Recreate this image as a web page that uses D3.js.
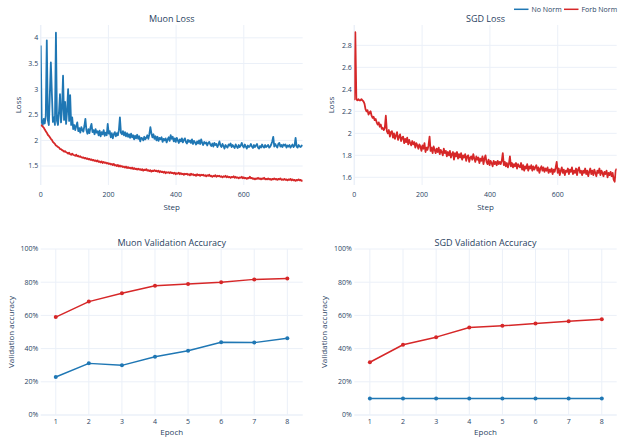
<!DOCTYPE html>
<html lang="en">
<head>
<meta charset="UTF-8"/>
<title>Muon vs SGD</title>
<script src="https://d3js.org/d3.v7.min.js"></script>
<style>
  body { margin: 0; background: #fff; }
  text { font-family: "Open Sans", verdana, arial, sans-serif; fill: #2a3f5f; }
</style>
</head>
<body>
<div id="chart"></div>
<script>

// spacing between logged steps
var stepEvery = 3;

// Muon loss, no norm (blue)
var muonNoNorm = [
  3.85, 2.35, 2.30, 2.42, 2.33, 2.48, 3.95, 2.40, 2.30, 2.90, 3.52, 2.92, 2.36, 2.45, 2.30, 4.10,
  2.38, 2.30, 2.55, 2.90, 2.35, 2.62, 3.26, 2.40, 2.75, 2.32, 2.58, 3.00, 2.38, 2.88, 2.30, 2.45,
  2.22, 2.30, 2.20, 2.28, 2.35, 2.18, 2.24, 2.15, 2.26, 2.20, 2.17, 2.28, 2.42, 2.20, 2.13, 2.22,
  2.14, 2.25, 2.32, 2.16, 2.20, 2.12, 2.22, 2.15, 2.18, 2.10, 2.19, 2.08, 2.16, 2.12, 2.20, 2.09,
  2.15, 2.10, 2.32, 2.13, 2.18, 2.06, 2.14, 2.04, 2.12, 2.16, 2.08, 2.14, 2.10, 2.20, 2.45, 2.15,
  2.12, 2.18, 2.10, 2.16, 2.08, 2.14, 2.07, 2.12, 2.05, 2.13, 2.06, 2.10, 2.02, 2.09, 2.04, 2.11,
  2.03, 2.08, 1.98, 2.05, 2.04, 2.00, 2.07, 2.02, 2.05, 2.10, 2.03, 2.12, 2.26, 2.14, 2.06, 2.12,
  2.03, 2.08, 2.00, 2.07, 1.99, 2.05, 2.02, 2.06, 1.97, 2.03, 2.00, 2.04, 1.96, 2.02, 2.06, 1.99,
  2.10, 2.03, 2.07, 1.98, 2.04, 1.97, 2.05, 2.00, 1.95, 2.02, 1.98, 2.04, 1.96, 2.01, 2.04, 1.97,
  1.94, 2.01, 1.97, 2.00, 1.95, 2.02, 1.93, 1.99, 1.96, 1.92, 1.98, 1.94, 2.00, 1.93, 2.02, 1.95,
  1.91, 1.97, 1.94, 1.96, 1.90, 1.95, 1.97, 1.92, 1.89, 1.94, 1.88, 1.95, 1.91, 1.93, 1.87, 1.92,
  1.98, 1.90, 1.87, 1.93, 1.89, 1.84, 1.91, 1.88, 1.86, 1.92, 1.90, 1.94, 1.87, 1.91, 1.88, 1.85,
  1.92, 1.88, 1.85, 1.91, 1.87, 1.90, 1.95, 1.89, 1.86, 1.92, 1.88, 1.84, 1.90, 1.87, 1.89, 1.93,
  1.88, 1.85, 1.91, 1.87, 1.90, 1.93, 1.86, 1.84, 1.89, 1.86, 1.92, 1.88, 1.86, 1.91, 1.87, 1.89,
  1.91, 1.86, 1.88, 1.92, 1.98, 2.07, 1.88, 1.93, 1.89, 1.86, 1.93, 1.95, 1.88, 1.91, 1.87, 1.92,
  1.90, 1.92, 1.86, 1.90, 1.88, 1.91, 1.86, 1.89, 1.92, 1.87, 1.90, 2.05, 1.88, 1.86, 1.91, 1.88,
  1.87, 1.90, 1.89];

// Muon loss, forb norm (red)
var muonForb = [
  2.30, 2.29, 2.27, 2.25, 2.21, 2.18, 2.15, 2.11, 2.09, 2.06, 2.03, 2.01, 1.97, 1.95, 1.93, 1.90,
  1.89, 1.87, 1.86, 1.83, 1.83, 1.81, 1.80, 1.78, 1.79, 1.77, 1.76, 1.74, 1.76, 1.73, 1.72, 1.74,
  1.72, 1.71, 1.70, 1.72, 1.69, 1.70, 1.68, 1.69, 1.67, 1.66, 1.67, 1.65, 1.66, 1.64, 1.65, 1.63,
  1.64, 1.62, 1.63, 1.61, 1.62, 1.60, 1.61, 1.59, 1.61, 1.58, 1.59, 1.57, 1.59, 1.56, 1.58, 1.56,
  1.57, 1.55, 1.56, 1.54, 1.55, 1.53, 1.54, 1.52, 1.54, 1.51, 1.52, 1.50, 1.52, 1.49, 1.51, 1.49,
  1.50, 1.48, 1.49, 1.47, 1.49, 1.46, 1.48, 1.46, 1.47, 1.45, 1.47, 1.44, 1.46, 1.44, 1.45, 1.43,
  1.45, 1.43, 1.44, 1.42, 1.44, 1.41, 1.43, 1.42, 1.44, 1.41, 1.42, 1.40, 1.42, 1.39, 1.41, 1.40,
  1.42, 1.40, 1.41, 1.39, 1.41, 1.38, 1.40, 1.38, 1.39, 1.37, 1.39, 1.36, 1.38, 1.37, 1.38, 1.36,
  1.38, 1.36, 1.37, 1.35, 1.37, 1.34, 1.36, 1.35, 1.37, 1.34, 1.36, 1.34, 1.35, 1.33, 1.35, 1.34,
  1.35, 1.33, 1.34, 1.32, 1.35, 1.33, 1.34, 1.32, 1.33, 1.31, 1.34, 1.32, 1.33, 1.31, 1.33, 1.32,
  1.33, 1.31, 1.32, 1.30, 1.32, 1.31, 1.33, 1.30, 1.31, 1.29, 1.31, 1.30, 1.32, 1.29, 1.31, 1.30,
  1.31, 1.29, 1.30, 1.28, 1.30, 1.29, 1.31, 1.28, 1.30, 1.28, 1.29, 1.27, 1.29, 1.28, 1.30, 1.27,
  1.29, 1.27, 1.28, 1.26, 1.28, 1.27, 1.29, 1.26, 1.28, 1.26, 1.27, 1.25, 1.27, 1.26, 1.29, 1.26,
  1.27, 1.25, 1.26, 1.24, 1.26, 1.25, 1.27, 1.25, 1.26, 1.24, 1.26, 1.25, 1.27, 1.24, 1.25, 1.24,
  1.26, 1.24, 1.25, 1.23, 1.25, 1.24, 1.26, 1.24, 1.25, 1.23, 1.25, 1.24, 1.26, 1.23, 1.24, 1.23,
  1.25, 1.23, 1.24, 1.22, 1.24, 1.23, 1.25, 1.22, 1.24, 1.22, 1.23, 1.21, 1.23, 1.22, 1.24, 1.22,
  1.23, 1.21, 1.22];

// SGD loss, forb norm (red) - the no norm run shows no loss curve
var sgdForb = [
  2.30, 2.92, 2.31, 2.30, 2.31, 2.30, 2.30, 2.31, 2.30, 2.29, 2.27, 2.22, 2.20, 2.21, 2.17, 2.19,
  2.20, 2.16, 2.14, 2.15, 2.12, 2.13, 2.10, 2.08, 2.10, 2.06, 2.08, 2.04, 2.05, 2.03, 2.05, 2.16,
  2.02, 2.00, 2.03, 1.97, 2.01, 2.02, 1.96, 2.00, 1.95, 1.98, 2.01, 1.94, 1.97, 1.99, 1.93, 1.96,
  1.97, 1.91, 1.95, 1.92, 1.96, 1.90, 1.94, 1.91, 1.89, 1.93, 1.90, 1.92, 1.87, 1.91, 1.89, 1.86,
  1.90, 1.88, 1.84, 1.89, 1.86, 1.91, 1.83, 1.87, 1.85, 1.89, 1.97, 1.84, 1.87, 1.82, 1.88, 1.85,
  1.82, 1.86, 1.83, 1.87, 1.81, 1.85, 1.83, 1.80, 1.86, 1.82, 1.84, 1.79, 1.83, 1.80, 1.84, 1.78,
  1.81, 1.83, 1.76, 1.82, 1.79, 1.83, 1.77, 1.81, 1.78, 1.82, 1.76, 1.80, 1.78, 1.81, 1.75, 1.79,
  1.80, 1.74, 1.78, 1.79, 1.76, 1.81, 1.77, 1.74, 1.79, 1.76, 1.78, 1.73, 1.77, 1.75, 1.79, 1.72,
  1.77, 1.80, 1.74, 1.72, 1.76, 1.71, 1.75, 1.73, 1.70, 1.75, 1.72, 1.74, 1.71, 1.75, 1.72, 1.74,
  1.72, 1.75, 1.82, 1.71, 1.74, 1.70, 1.73, 1.69, 1.72, 1.79, 1.70, 1.73, 1.69, 1.72, 1.70, 1.73,
  1.68, 1.72, 1.70, 1.69, 1.73, 1.67, 1.71, 1.66, 1.70, 1.68, 1.72, 1.66, 1.70, 1.68, 1.71, 1.66,
  1.70, 1.67, 1.69, 1.71, 1.66, 1.69, 1.64, 1.68, 1.70, 1.66, 1.69, 1.65, 1.68, 1.66, 1.69, 1.64,
  1.67, 1.65, 1.68, 1.63, 1.67, 1.65, 1.69, 1.74, 1.64, 1.68, 1.62, 1.66, 1.69, 1.64, 1.67, 1.62,
  1.66, 1.65, 1.68, 1.63, 1.67, 1.65, 1.69, 1.63, 1.66, 1.64, 1.68, 1.62, 1.67, 1.69, 1.64, 1.66,
  1.62, 1.66, 1.64, 1.68, 1.63, 1.66, 1.61, 1.65, 1.68, 1.63, 1.66, 1.62, 1.67, 1.64, 1.61, 1.66,
  1.64, 1.68, 1.62, 1.66, 1.64, 1.61, 1.65, 1.63, 1.66, 1.60, 1.64, 1.62, 1.65, 1.61, 1.64, 1.58,
  1.56, 1.66, 1.68];

// validation accuracy (%) per epoch
var epochs = [1, 2, 3, 4, 5, 6, 7, 8];
var muonAccNoNorm = [22.9, 31.1, 29.9, 35.1, 38.7, 43.8, 43.6, 46.2];
var muonAccForb = [59.0, 68.3, 73.3, 77.9, 78.9, 79.9, 81.7, 82.3];
var sgdAccNoNorm = [9.9, 9.9, 9.9, 9.9, 9.9, 9.9, 9.9, 9.9];
var sgdAccForb = [31.8, 42.3, 46.9, 52.7, 53.7, 55.1, 56.5, 57.7];

// tick labels
var stepTicks = [0, 200, 400, 600];
var muonLossTicks = [1.5, 2, 2.5, 3, 3.5, 4];
var sgdLossTicks = [1.6, 1.8, 2, 2.2, 2.4, 2.6, 2.8];
var accTicks = [0, 20, 40, 60, 80, 100];

var blue = "#1f77b4", red = "#d62728";
var gridColor = "#ebf0f8";

var w = 623, h = 444;

var svg = d3.select("#chart")
  .append("svg")
  .attr("width", w)
  .attr("height", h);

function toPoints(vals) {
  return vals.map(function(v, i) { return [i * stepEvery, v]; });
}

function panel(opt) {
  var x = d3.scaleLinear().domain(opt.xDomain).range([opt.left, opt.right]);
  var y = d3.scaleLinear().domain(opt.yDomain).range([opt.bottom, opt.top]);
  var g = svg.append("g");

  // grid
  g.selectAll(".vg").data(opt.xTicks).enter().append("line")
    .attr("x1", function(d) { return x(d); })
    .attr("x2", function(d) { return x(d); })
    .attr("y1", opt.top).attr("y2", opt.bottom)
    .attr("stroke", gridColor)
    .attr("stroke-width", function(d) { return d === 0 ? 1.5 : 1; });
  g.selectAll(".hg").data(opt.yTicks).enter().append("line")
    .attr("x1", opt.left).attr("x2", opt.right)
    .attr("y1", function(d) { return y(d); })
    .attr("y2", function(d) { return y(d); })
    .attr("stroke", gridColor)
    .attr("stroke-width", function(d) { return d === 0 ? 1.5 : 1; });

  // tick labels
  g.selectAll(".xt").data(opt.xTicks).enter().append("text")
    .attr("x", function(d) { return x(d); })
    .attr("y", opt.bottom + opt.xTickGap)
    .attr("text-anchor", "middle")
    .attr("font-size", 7)
    .text(function(d) { return d; });
  g.selectAll(".yt").data(opt.yTicks).enter().append("text")
    .attr("x", opt.left - 2.5)
    .attr("y", function(d) { return y(d); })
    .attr("dy", "0.35em")
    .attr("text-anchor", "end")
    .attr("font-size", 7)
    .text(opt.yFormat);

  // titles
  g.append("text")
    .attr("x", (opt.left + opt.right) / 2)
    .attr("y", opt.top - opt.titleGap)
    .attr("text-anchor", "middle")
    .attr("font-size", 9)
    .text(opt.title);
  g.append("text")
    .attr("x", (opt.left + opt.right) / 2)
    .attr("y", opt.bottom + opt.xTitleGap)
    .attr("text-anchor", "middle")
    .attr("font-size", 8)
    .text(opt.xTitle);
  g.append("text")
    .attr("transform", "translate(" + opt.yTitleX + "," + ((opt.top + opt.bottom) / 2) + ") rotate(-90)")
    .attr("text-anchor", "middle")
    .attr("dy", "0.35em")
    .attr("font-size", 8)
    .text(opt.yTitle);

  var line = d3.line()
    .x(function(d) { return x(d[0]); })
    .y(function(d) { return y(d[1]); });

  var clipId = "clip" + Math.round(opt.left) + Math.round(opt.top);
  svg.append("clipPath").attr("id", clipId)
    .append("rect")
    .attr("x", opt.left).attr("y", opt.top)
    .attr("width", opt.right - opt.left).attr("height", opt.bottom - opt.top);

  var plot = g.append("g").attr("clip-path", "url(#" + clipId + ")");
  opt.series.forEach(function(s) {
    plot.append("path")
      .datum(s.points)
      .attr("fill", "none")
      .attr("stroke", s.color)
      .attr("stroke-width", opt.lineWidth)
      .attr("stroke-linejoin", "round")
      .attr("d", line);
    if (opt.markers) {
      g.selectAll(null).data(s.points).enter().append("circle")
        .attr("cx", function(d) { return x(d[0]); })
        .attr("cy", function(d) { return y(d[1]); })
        .attr("r", 2)
        .attr("fill", s.color);
    }
  });
}

var lossMax = (muonNoNorm.length - 1) * stepEvery;

panel({
  left: 40.7, right: 302.7, top: 25, bottom: 185,
  xDomain: [0, lossMax], yDomain: [1.13, 4.25],
  xTicks: stepTicks, yTicks: muonLossTicks,
  yFormat: function(d) { return d; },
  title: "Muon Loss", xTitle: "Step", yTitle: "Loss",
  titleGap: 3, xTickGap: 12, xTitleGap: 25, yTitleX: 18, lineWidth: 1.8,
  series: [
    { points: toPoints(muonNoNorm), color: blue },
    { points: toPoints(muonForb), color: red }
  ]
});

panel({
  left: 354.3, right: 616.7, top: 25, bottom: 185,
  xDomain: [0, lossMax], yDomain: [1.53, 2.985],
  xTicks: stepTicks, yTicks: sgdLossTicks,
  yFormat: function(d) { return d; },
  title: "SGD Loss", xTitle: "Step", yTitle: "Loss",
  titleGap: 3, xTickGap: 12, xTitleGap: 25, yTitleX: 331.5, lineWidth: 1.8,
  series: [
    { points: toPoints(sgdForb), color: red }
  ]
});

function accPoints(vals) {
  return vals.map(function(v, i) { return [epochs[i], v]; });
}

panel({
  left: 40.7, right: 302.7, top: 249, bottom: 415,
  xDomain: [0.545, 8.465], yDomain: [0, 100],
  xTicks: epochs, yTicks: accTicks,
  yFormat: function(d) { return d + "%"; },
  title: "Muon Validation Accuracy", xTitle: "Epoch", yTitle: "Validation accuracy",
  titleGap: 3.5, xTickGap: 8.5, xTitleGap: 20, yTitleX: 10.7, markers: true, lineWidth: 1.5,
  series: [
    { points: accPoints(muonAccNoNorm), color: blue },
    { points: accPoints(muonAccForb), color: red }
  ]
});

panel({
  left: 354.3, right: 616.7, top: 249, bottom: 415,
  xDomain: [0.53, 8.45], yDomain: [0, 100],
  xTicks: epochs, yTicks: accTicks,
  yFormat: function(d) { return d + "%"; },
  title: "SGD Validation Accuracy", xTitle: "Epoch", yTitle: "Validation accuracy",
  titleGap: 3.5, xTickGap: 8.5, xTitleGap: 20, yTitleX: 324.5, markers: true, lineWidth: 1.5,
  series: [
    { points: accPoints(sgdAccNoNorm), color: blue },
    { points: accPoints(sgdAccForb), color: red }
  ]
});

// legend
var legendItems = [
  { name: "No Norm", color: blue, x: 514 },
  { name: "Forb Norm", color: red, x: 564 }
];
var legend = svg.append("g");
legendItems.forEach(function(d) {
  legend.append("line")
    .attr("x1", d.x).attr("x2", d.x + 14.5)
    .attr("y1", 9.3).attr("y2", 9.3)
    .attr("stroke", d.color).attr("stroke-width", 1.5);
  legend.append("text")
    .attr("x", d.x + 17.5).attr("y", 9.3)
    .attr("dy", "0.35em")
    .attr("font-size", 7)
    .text(d.name);
});

</script>
</body>
</html>
